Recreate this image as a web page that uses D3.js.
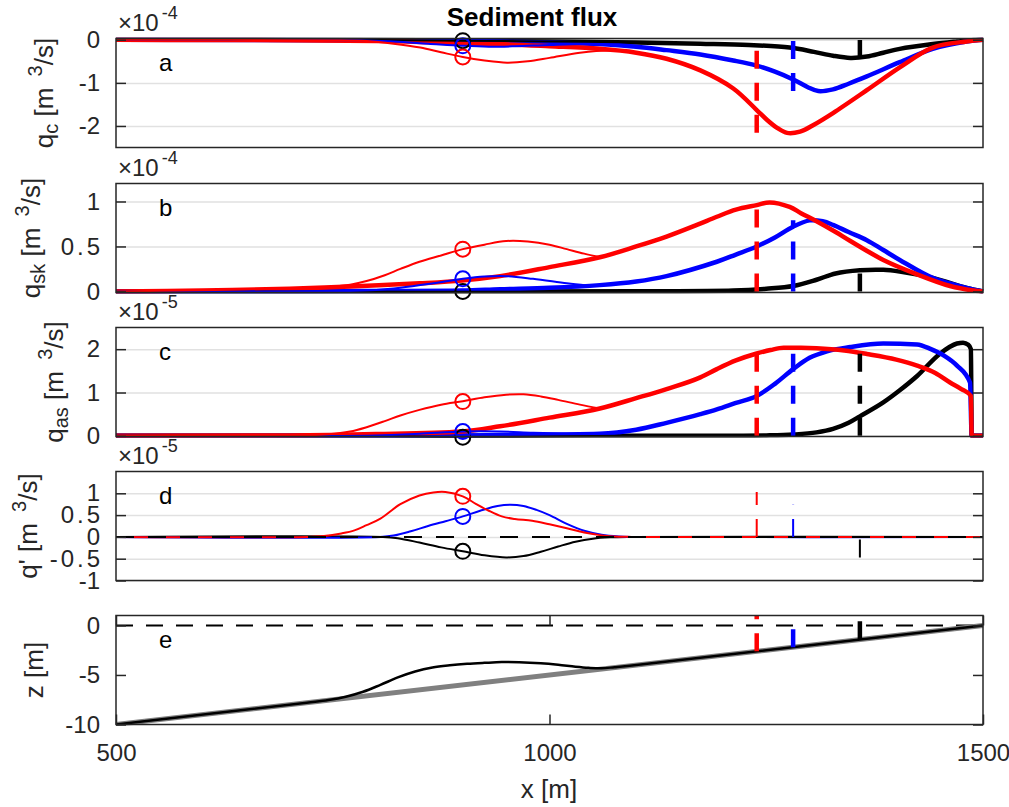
<!DOCTYPE html>
<html><head><meta charset="utf-8">
<script src="https://cdn.jsdelivr.net/npm/d3@7"></script>
<style>
body{margin:0;background:#fff;}
text{font-family:"Liberation Sans",Arial,Helvetica,sans-serif;}
</style></head><body>
<svg id="chart" width="1009" height="807"></svg>
<script>
// ---------------- DATA ----------------
const xTicks = [500, 1000, 1500];
const yTicksA = [-2, -1, 0];
const yTicksB = [0, 0.5, 1];
const yTicksC = [0, 1, 2];
const yTicksD = [-1, -0.5, 0, 0.5, 1];
const yTicksE = [-10, -5, 0];
const circleX = 900;

// panel a: q_c (x1e-4)
const aThickBlackX = [500, 800, 900, 943, 1000, 1100, 1174, 1230, 1277, 1305, 1327, 1347, 1366, 1385, 1404, 1442, 1470, 1489, 1500];
const aThickBlackY = [0, -0.005, -0.015, -0.03, -0.04, -0.06, -0.09, -0.12, -0.18, -0.28, -0.37, -0.42, -0.39, -0.3, -0.21, -0.1, -0.04, -0.005, 0];
const aThickBlueX = [500, 800, 885, 943, 1000, 1058, 1100, 1135, 1174, 1212, 1239, 1260, 1281, 1298, 1310, 1327, 1345, 1366, 1404, 1442, 1481, 1500];
const aThickBlueY = [0, -0.01, -0.02, -0.04, -0.06, -0.1, -0.16, -0.24, -0.34, -0.48, -0.6, -0.74, -0.92, -1.1, -1.19, -1.15, -1.02, -0.85, -0.52, -0.21, -0.04, 0];
const aThickRedX = [500, 600, 700, 800, 850, 899, 943, 1000, 1058, 1100, 1135, 1174, 1212, 1239, 1251, 1263, 1274, 1289, 1305, 1327, 1366, 1404, 1442, 1481, 1500];
const aThickRedY = [0, -0.005, -0.01, -0.03, -0.05, -0.085, -0.1, -0.15, -0.21, -0.3, -0.44, -0.71, -1.13, -1.63, -1.86, -2.05, -2.16, -2.13, -1.97, -1.7, -1.17, -0.64, -0.18, -0.04, 0];
const aThinBlackX = [500, 800, 900, 1000, 1100];
const aThinBlackY = [0, -0.005, -0.02, -0.04, -0.06];
const aThinBlueX = [500, 780, 820, 860, 900, 930, 960, 1000, 1040, 1070];
const aThinBlueY = [0, -0.01, -0.04, -0.09, -0.14, -0.16, -0.15, -0.12, -0.1, -0.12];
const aThinRedX = [500, 750, 789, 820, 851, 875, 900, 925, 951, 975, 1000, 1035, 1070, 1100];
const aThinRedY = [0, -0.01, -0.03, -0.09, -0.18, -0.29, -0.4, -0.48, -0.53, -0.5, -0.42, -0.3, -0.25, -0.3];
const aCircles = [-0.02, -0.14, -0.4];

// panel b: q_sk (x1e-4)
const bThickBlackX = [500, 1100, 1212, 1250, 1281, 1308, 1330, 1358, 1385, 1404, 1442, 1481, 1500];
const bThickBlackY = [0, 0.001, 0.01, 0.03, 0.06, 0.13, 0.2, 0.235, 0.24, 0.22, 0.15, 0.04, 0];
const bThickBlueX = [500, 700, 800, 899, 943, 1000, 1058, 1100, 1135, 1193, 1215, 1239, 1260, 1281, 1300, 1315, 1327, 1345, 1366, 1385, 1404, 1442, 1481, 1500];
const bThickBlueY = [0, 0.002, 0.005, 0.01, 0.025, 0.04, 0.07, 0.11, 0.17, 0.33, 0.41, 0.5, 0.6, 0.72, 0.79, 0.78, 0.74, 0.66, 0.57, 0.46, 0.35, 0.15, 0.04, 0];
const bThickRedX = [500, 600, 700, 770, 850, 899, 943, 1000, 1058, 1100, 1135, 1170, 1193, 1215, 1239, 1254, 1277, 1290, 1308, 1330, 1347, 1385, 1424, 1462, 1489, 1500];
const bThickRedY = [0, 0.01, 0.03, 0.055, 0.09, 0.12, 0.17, 0.27, 0.38, 0.5, 0.61, 0.74, 0.83, 0.91, 0.96, 0.99, 0.94, 0.87, 0.78, 0.66, 0.56, 0.35, 0.19, 0.06, 0.01, 0];
const bThinBlackX = [500, 850, 900, 950, 1100];
const bThinBlackY = [0, -0.003, -0.005, -0.003, 0];
const bThinBlueX = [500, 770, 800, 828, 866, 900, 925, 950, 981, 1020, 1043];
const bThinBlueY = [0, 0.005, 0.015, 0.04, 0.09, 0.14, 0.165, 0.17, 0.14, 0.09, 0.065];
const bThinRedX = [500, 720, 745, 770, 789, 810, 828, 850, 875, 900, 925, 950, 975, 1000, 1020, 1040, 1058];
const bThinRedY = [0, 0.037, 0.05, 0.075, 0.115, 0.18, 0.25, 0.33, 0.4, 0.47, 0.52, 0.56, 0.555, 0.52, 0.47, 0.42, 0.38];
const bCircles = [0, 0.14, 0.47];

// panel c: q_as (x1e-5)
const cThickBlackX = [500, 1200, 1250, 1281, 1308, 1327, 1345, 1358, 1385, 1404, 1424, 1450, 1470, 1477, 1483, 1486, 1487, 1500];
const cThickBlackY = [0, 0, 0.01, 0.03, 0.08, 0.16, 0.3, 0.45, 0.77, 1.05, 1.38, 1.89, 2.13, 2.15, 2.1, 2.0, 0, 0];
const cThickBlueX = [500, 900, 943, 1058, 1100, 1135, 1174, 1193, 1215, 1239, 1260, 1281, 1300, 1320, 1347, 1385, 1424, 1440, 1455, 1470, 1485, 1487, 1500];
const cThickBlueY = [0, 0.01, 0.02, 0.05, 0.14, 0.3, 0.5, 0.61, 0.76, 0.92, 1.2, 1.54, 1.8, 1.95, 2.05, 2.13, 2.11, 2.0, 1.85, 1.62, 1.23, 0, 0];
const cThickRedX = [500, 700, 800, 899, 943, 1000, 1058, 1100, 1135, 1174, 1193, 1215, 1239, 1255, 1270, 1290, 1308, 1340, 1366, 1400, 1424, 1445, 1462, 1475, 1486, 1487, 1500];
const cThickRedY = [0, 0.01, 0.04, 0.1, 0.22, 0.42, 0.63, 0.87, 1.08, 1.35, 1.54, 1.74, 1.9, 1.98, 2.03, 2.03, 2.02, 1.97, 1.89, 1.76, 1.62, 1.45, 1.23, 1.08, 0.92, 0, 0];
const cThinBlackX = [500, 820, 900, 980, 1080];
const cThinBlackY = [0, -0.01, -0.03, -0.02, 0];
const cThinBlueX = [500, 800, 850, 900, 943, 981, 1020, 1058];
const cThinBlueY = [0, 0.01, 0.05, 0.1, 0.1, 0.07, 0.05, 0.05];
const cThinRedX = [500, 720, 745, 770, 789, 810, 828, 850, 875, 900, 925, 950, 970, 990, 1010, 1035, 1058];
const cThinRedY = [0, 0.015, 0.035, 0.1, 0.2, 0.34, 0.47, 0.6, 0.72, 0.8, 0.89, 0.95, 0.96, 0.91, 0.83, 0.72, 0.63];
const cCircles = [-0.03, 0.1, 0.79];

// panel d: q' (x1e-5)
const dBlackX = [500, 808, 825, 850, 875, 900, 925, 950, 970, 990, 1010, 1030, 1050, 1070, 1090, 1500];
const dBlackY = [0, 0, -0.03, -0.13, -0.24, -0.33, -0.42, -0.47, -0.44, -0.34, -0.22, -0.11, -0.04, -0.01, 0, 0];
const dBlueX = [500, 805, 820, 840, 860, 880, 900, 920, 940, 955, 970, 985, 1000, 1020, 1040, 1060, 1080, 1095, 1500];
const dBlueY = [0, 0, 0.03, 0.13, 0.25, 0.36, 0.47, 0.6, 0.71, 0.74, 0.71, 0.62, 0.5, 0.3, 0.14, 0.05, 0.01, 0, 0];
const dRedX = [500, 720, 740, 760, 775, 789, 805, 828, 850, 866, 880, 900, 915, 930, 945, 960, 980, 1000, 1020, 1040, 1060, 1080, 1095, 1500];
const dRedY = [0, 0, 0.02, 0.08, 0.15, 0.27, 0.42, 0.75, 0.95, 1.02, 1.03, 0.93, 0.76, 0.6, 0.47, 0.41, 0.37, 0.29, 0.2, 0.1, 0.035, 0.005, 0, 0];
const dCircles = [-0.33, 0.47, 0.93];

// panel e: bed level z
const eBaseX = [500, 1500];
const eBaseZ = [-10, 0];
const eBedX = [500, 720, 745, 765, 785, 805, 825, 845, 865, 885, 905, 925, 945, 965, 990, 1010, 1030, 1045, 1060, 1075, 1090, 1500];
const eBedZ = [-10, -7.8, -7.53, -7.2, -6.7, -6.0, -5.25, -4.65, -4.25, -4.03, -3.88, -3.78, -3.7, -3.72, -3.83, -3.98, -4.17, -4.28, -4.33, -4.22, -4.1, 0];

// marker positions (black, blue, red)
const markX = [1358, 1281, 1239];
const markBedZ = [-1.4, -2.2, -2.6];

// ---------------- DRAW ----------------
const svg = d3.select('#chart');
const L = 116, R = 983, H = 109;
const FONT = '"Liberation Sans", Arial, Helvetica, sans-serif';
const COLORS = ['#000000', '#0000ff', '#ff0000'];
const AX = '#262626';
const zip = (xs, ys) => xs.map((v, i) => [v, ys[i]]);
const x = d3.scaleLinear().domain([500, 1500]).range([L, R]);

svg.append('rect').attr('width', 1009).attr('height', 807).attr('fill', '#fff');

const panels = [
  {id: 'a', top: 38.5, domain: [-2.5, 0.03], ticks: yTicksA, exp: '-4', labelX: 53, step: false,
   label: [['q'], ['c', 'sub'], [' [m '], ['3', 'sup'], ['/s]']],
   thick: [zip(aThickBlackX, aThickBlackY), zip(aThickBlueX, aThickBlueY), zip(aThickRedX, aThickRedY)],
   thin: [zip(aThinBlackX, aThinBlackY), zip(aThinBlueX, aThinBlueY), zip(aThinRedX, aThinRedY)],
   circ: aCircles},
  {id: 'b', top: 183.5, domain: [-0.012, 1.2], ticks: yTicksB, exp: '-4', labelX: 40, step: false,
   label: [['q'], ['sk', 'sub'], [' [m '], ['3', 'sup'], ['/s]']],
   thick: [zip(bThickBlackX, bThickBlackY), zip(bThickBlueX, bThickBlueY), zip(bThickRedX, bThickRedY)],
   thin: [zip(bThinBlackX, bThinBlackY), zip(bThinBlueX, bThinBlueY), zip(bThinRedX, bThinRedY)],
   circ: bCircles},
  {id: 'c', top: 327.5, domain: [-0.015, 2.5], ticks: yTicksC, exp: '-5', labelX: 63, step: true,
   label: [['q'], ['as', 'sub'], [' [m '], ['3', 'sup'], ['/s]']],
   thick: [zip(cThickBlackX, cThickBlackY), zip(cThickBlueX, cThickBlueY), zip(cThickRedX, cThickRedY)],
   thin: [zip(cThinBlackX, cThinBlackY), zip(cThinBlueX, cThinBlueY), zip(cThinRedX, cThinRedY)],
   circ: cCircles},
  {id: 'd', top: 471.5, domain: [-1, 1.5], ticks: yTicksD, exp: '-5', labelX: 37, step: false,
   label: [["q' [m "], ['3', 'sup'], ['/s]']],
   thick: [],
   thin: [zip(dBlackX, dBlackY), zip(dBlueX, dBlueY), zip(dRedX, dRedY)],
   circ: dCircles},
  {id: 'e', top: 615.5, domain: [-10, 1], ticks: yTicksE, exp: null, labelX: 43, step: false,
   label: [['z [m]']]}
];

function styleAxis(g) {
  g.select('.domain').remove();
  g.selectAll('line').attr('stroke', AX).attr('stroke-width', 1.5);
  g.selectAll('text').attr('font-size', 24).attr('font-family', FONT).attr('fill', AX);
  g.selectAll('text').filter(function () { return this.textContent.indexOf('.') >= 0; })
    .attr('letter-spacing', 3).attr('dx', 3);
}

panels.forEach(p => {
  const y = d3.scaleLinear().domain(p.domain).range([p.top + H, p.top]);
  const smooth = d3.line().x(d => x(d[0])).y(d => y(d[1])).curve(d3.curveCatmullRom.alpha(0.5));
  const mono = d3.line().x(d => x(d[0])).y(d => y(d[1])).curve(d3.curveMonotoneX);
  const straight = d3.line().x(d => x(d[0])).y(d => y(d[1]));
  const clipId = 'clip-' + p.id;
  svg.append('clipPath').attr('id', clipId).append('rect')
    .attr('x', L - 1).attr('y', p.top - 1).attr('width', R - L + 2).attr('height', H + 2);

  if (p.id !== 'e') {
    const gg = svg.append('g').attr('transform', `translate(${L},0)`)
      .call(d3.axisLeft(y).tickValues(p.ticks).tickSize(-(R - L)).tickFormat(''));
    gg.select('.domain').remove();
    gg.selectAll('line').attr('stroke', '#e1e1e1').attr('stroke-width', 1.5);
  }

  const plot = svg.append('g').attr('clip-path', `url(#${clipId})`);

  if (p.id === 'e') {
    plot.append('path').attr('d', straight([[500, 0], [1500, 0]]))
      .attr('fill', 'none').attr('stroke', '#000').attr('stroke-width', 2).attr('stroke-dasharray', '17,13');
    plot.append('path').attr('d', straight(zip(eBaseX, eBaseZ)))
      .attr('fill', 'none').attr('stroke', '#808080').attr('stroke-width', 5);
    plot.append('path').attr('d', smooth(zip(eBedX, eBedZ)))
      .attr('fill', 'none').attr('stroke', '#000').attr('stroke-width', 2.5);
    markX.forEach((mx, i) => {
      plot.append('path').attr('d', straight([[mx, markBedZ[i]], [mx, p.domain[1]]]))
        .attr('fill', 'none').attr('stroke', COLORS[i]).attr('stroke-width', 4.5).attr('stroke-dasharray', '18,14');
    });
  } else {
    p.thick.forEach((s, i) => {
      plot.append('path').attr('d', (p.step ? mono : smooth)(s)).attr('fill', 'none')
        .attr('stroke', COLORS[i]).attr('stroke-width', 4.5).attr('stroke-linejoin', 'round');
    });
    p.thin.forEach((s, i) => {
      plot.append('path').attr('d', smooth(s)).attr('fill', 'none')
        .attr('stroke', COLORS[i]).attr('stroke-width', 2).attr('stroke-linejoin', 'round');
    });
    if (p.id === 'd') {
      plot.append('path').attr('d', straight([[500, 0], [1500, 0]]))
        .attr('fill', 'none').attr('stroke', '#000').attr('stroke-width', 2).attr('stroke-dasharray', '18,14');
    }
    const refs = p.id === 'd' ? p.thin : p.thick;
    refs.forEach((s, i) => {
      const ext = d3.extent(s, d => d[1]);
      plot.append('path').attr('d', straight([[markX[i], ext[0]], [markX[i], ext[1]]]))
        .attr('fill', 'none').attr('stroke', COLORS[i])
        .attr('stroke-width', p.id === 'd' ? 2 : 4.5).attr('stroke-dasharray', '18,14');
    });
    p.circ.forEach((v, i) => {
      svg.append('circle').attr('cx', x(circleX)).attr('cy', y(v)).attr('r', 7.5)
        .attr('fill', 'none').attr('stroke', COLORS[i]).attr('stroke-width', 2);
    });
  }

  svg.append('rect').attr('x', L).attr('y', p.top).attr('width', R - L).attr('height', H)
    .attr('fill', 'none').attr('stroke', AX).attr('stroke-width', 1.5);

  const gl = svg.append('g').attr('transform', `translate(${L},0)`)
    .call(d3.axisLeft(y).tickValues(p.ticks).tickSize(-10).tickPadding(16).tickFormat(d => String(d)));
  styleAxis(gl);
  const gr = svg.append('g').attr('transform', `translate(${R},0)`)
    .call(d3.axisRight(y).tickValues(p.ticks).tickSize(-10).tickFormat(''));
  styleAxis(gr);
  if (p.id === 'e') {
    const gb = svg.append('g').attr('transform', `translate(0,${p.top + H})`)
      .call(d3.axisBottom(x).tickValues(xTicks).tickSize(-10).tickPadding(19).tickFormat(d => String(d)));
    styleAxis(gb);
    const gt = svg.append('g').attr('transform', `translate(0,${p.top})`)
      .call(d3.axisTop(x).tickValues(xTicks).tickSize(-10).tickFormat(''));
    styleAxis(gt);
  }

  svg.append('text').attr('x', 159).attr('y', p.top + 32).attr('font-size', 24)
    .attr('font-family', FONT).attr('fill', '#000').text(p.id);

  if (p.exp) {
    const ex = svg.append('text').attr('x', 118).attr('y', p.top - 7.5).attr('font-size', 24)
      .attr('font-family', FONT).attr('fill', AX);
    ex.append('tspan').text('\u00d710');
    ex.append('tspan').attr('dx', 3).attr('dy', -12).attr('font-size', 18).text(p.exp);
  }

  const t = svg.append('text')
    .attr('transform', `translate(${p.labelX},${p.top + H / 2}) rotate(-90)`)
    .attr('text-anchor', 'middle').attr('font-size', 26).attr('font-family', FONT)
    .attr('fill', AX).style('white-space', 'pre');
  let shift = 0;
  p.label.forEach(([s, kind]) => {
    const target = kind === 'sub' ? 5 : kind === 'sup' ? -11 : 0;
    const ts = t.append('tspan').attr('dy', target - shift).attr('font-size', kind ? 20 : 26).text(s);
    if (kind === 'sup') ts.attr('dx', 4);
    shift = target;
  });
});

svg.append('text').attr('x', 532).attr('y', 26).attr('text-anchor', 'middle')
  .attr('font-size', 26).attr('font-weight', 'bold').attr('font-family', FONT).attr('fill', '#000')
  .text('Sediment flux');
svg.append('text').attr('x', 549).attr('y', 798).attr('text-anchor', 'middle')
  .attr('font-size', 26).attr('font-family', FONT).attr('fill', AX).text('x [m]');
</script></body></html>
